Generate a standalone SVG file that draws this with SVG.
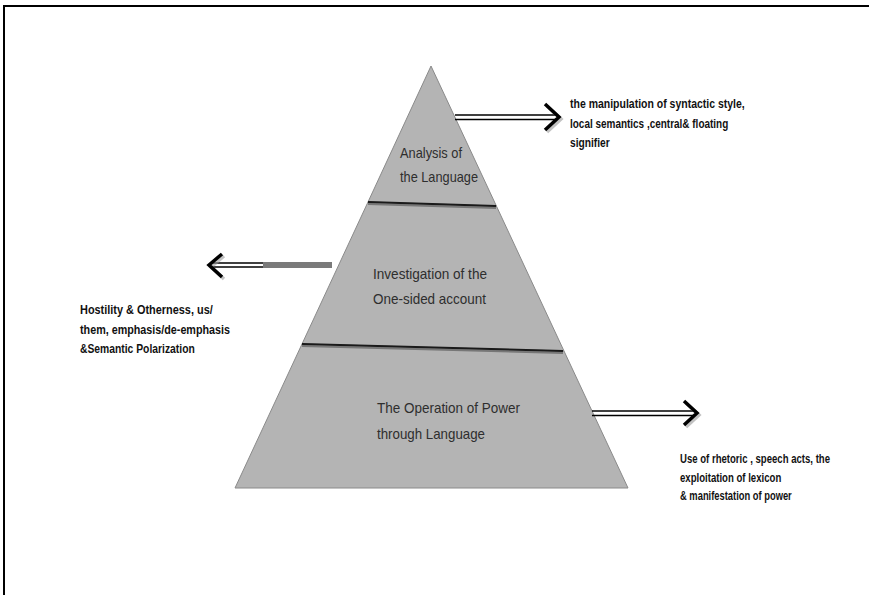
<svg xmlns="http://www.w3.org/2000/svg" width="869" height="595" viewBox="0 0 869 595">
<style>
.tier{fill:#b4b4b4;stroke:#8a8a8a;stroke-width:1}
.div{stroke:#1a1a1a;stroke-width:2;fill:none}
.divs{stroke:#777;stroke-width:2;fill:none}
.in{font-family:"Liberation Sans",Arial,sans-serif;font-size:15px;fill:#2e2e2e}
.out{font-family:"Liberation Sans",Arial,sans-serif;font-size:13px;font-weight:bold;fill:#111}
.dl{stroke:#000;stroke-width:1.6;fill:none}
.head{stroke:#000;stroke-width:3.5;fill:none;stroke-linejoin:miter;stroke-linecap:butt}
.sh{stroke:#999;stroke-width:3.5;fill:none;opacity:.6}
</style>
<rect x="0" y="0" width="869" height="595" fill="#fff"/>
<path d="M4,595 V6 H869" fill="none" stroke="#000" stroke-width="2"/>
<g id="tier1">
<polygon class="tier" points="431,66 496.4,206 368,202"/>
<text class="in" x="400" y="158" textLength="62" lengthAdjust="spacingAndGlyphs">Analysis of</text>
<text class="in" x="400" y="182" textLength="78" lengthAdjust="spacingAndGlyphs">the Language</text>
</g>
<g id="tier2">
<polygon class="tier" points="368,202 496.4,206 564,351 302,344"/>
<text class="in" x="373" y="279" textLength="114" lengthAdjust="spacingAndGlyphs">Investigation of the</text>
<text class="in" x="373" y="304" textLength="113" lengthAdjust="spacingAndGlyphs">One-sided account</text>
</g>
<g id="tier3">
<polygon class="tier" points="302,344 564,351 628,488 235,488"/>
<text class="in" x="377" y="413" textLength="143" lengthAdjust="spacingAndGlyphs">The Operation of Power</text>
<text class="in" x="377" y="439" textLength="108" lengthAdjust="spacingAndGlyphs">through Language</text>
</g>
<g id="dividers">
<line class="divs" x1="368" y1="204" x2="496" y2="208"/>
<line class="div" x1="368" y1="202" x2="496" y2="206"/>
<line class="divs" x1="302" y1="346" x2="563" y2="353"/>
<line class="div" x1="302" y1="344" x2="563" y2="351"/>
</g>
<g id="label-top" transform="translate(570,0) scale(0.75,1)">
<text class="out" x="0" y="108" textLength="233" lengthAdjust="spacingAndGlyphs">the manipulation of syntactic style,</text>
<text class="out" x="0" y="128" textLength="211" lengthAdjust="spacingAndGlyphs">local semantics ,central&amp; floating</text>
<text class="out" x="0" y="147" textLength="53" lengthAdjust="spacingAndGlyphs">signifier</text>
</g>
<g id="label-left" transform="translate(80,0) scale(0.75,1)">
<text class="out" x="0" y="314" textLength="177" lengthAdjust="spacingAndGlyphs">Hostility &amp; Otherness, us/</text>
<text class="out" x="0" y="334" textLength="200" lengthAdjust="spacingAndGlyphs">them, emphasis/de-emphasis</text>
<text class="out" x="0" y="353" textLength="153" lengthAdjust="spacingAndGlyphs">&amp;Semantic Polarization</text>
</g>
<g id="label-bottom" transform="translate(680,0) scale(0.75,1)">
<text class="out" x="0" y="463" textLength="200" lengthAdjust="spacingAndGlyphs">Use of rhetoric , speech acts, the</text>
<text class="out" x="0" y="482" textLength="135" lengthAdjust="spacingAndGlyphs">exploitation of lexicon</text>
<text class="out" x="0" y="500" textLength="149" lengthAdjust="spacingAndGlyphs">&amp; manifestation of power</text>
</g>
<g id="connectors">
<g id="arrow-top">
<line class="dl" x1="455" y1="115" x2="556" y2="115"/>
<line class="dl" x1="455" y1="119.5" x2="556" y2="119.5"/>
<polyline class="sh" points="547,106 561,119 547,132"/>
<polyline class="head" points="545,104 559,117 545,130"/>
</g>
<g id="arrow-left">
<rect x="263" y="262" width="69" height="6" fill="#7a7a7a"/>
<line class="dl" x1="213" y1="263" x2="263" y2="263" stroke="#333"/>
<line class="dl" x1="213" y1="267" x2="263" y2="267" stroke="#333"/>
<polyline class="sh" points="224,256 211,267 224,279"/>
<polyline class="head" points="222,254 209,265 222,277"/>
</g>
<g id="arrow-bottom">
<line class="dl" x1="592" y1="411" x2="694" y2="411"/>
<line class="dl" x1="592" y1="415.5" x2="694" y2="415.5"/>
<polyline class="sh" points="686,403 699,415 686,427"/>
<polyline class="head" points="684,401 697,413 684,425"/>
</g>
</g>
</svg>
